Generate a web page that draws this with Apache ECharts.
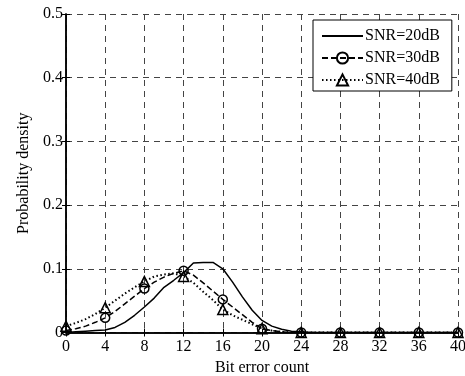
<!DOCTYPE html>
<html>
<head>
<meta charset="utf-8">
<script src="https://cdn.jsdelivr.net/npm/echarts@6/dist/echarts.min.js"></script>
<style>
    html, body { margin: 0; padding: 0; background: #fff; }
    #chart { width: 465px; height: 376px; }
</style>
</head>
<body>
<div id="chart"></div>
<script>
    // bit error count (x)
    var bitErrors = [0, 1, 2, 3, 4, 5, 6, 7, 8, 9, 10, 11, 12, 13, 14, 15, 16, 17, 18, 19, 20,
        21, 22, 23, 24, 25, 26, 27, 28, 29, 30, 31, 32, 33, 34, 35, 36, 37, 38, 39, 40];
    // probability density for each SNR
    var snr20 = [0, 0.001, 0.002, 0.003, 0.004, 0.008, 0.016, 0.027, 0.04, 0.054, 0.071, 0.082, 0.094,
        0.109, 0.11, 0.11, 0.1, 0.079, 0.056, 0.035, 0.019, 0.01, 0.005, 0.002, 0.001,
        0, 0, 0, 0, 0, 0, 0, 0, 0, 0, 0, 0, 0, 0, 0, 0];
    var snr30 = [0.003, 0.006, 0.01, 0.016, 0.023, 0.033, 0.045, 0.057, 0.069, 0.079, 0.087, 0.093, 0.097,
        0.09, 0.078, 0.065, 0.052, 0.04, 0.028, 0.016, 0.006, 0.003, 0.001, 0, 0,
        0, 0, 0, 0, 0, 0, 0, 0, 0, 0, 0, 0, 0, 0, 0, 0];
    var snr40 = [0.01, 0.015, 0.021, 0.029, 0.039, 0.05, 0.061, 0.071, 0.08, 0.088, 0.091, 0.093, 0.088,
        0.078, 0.064, 0.051, 0.036, 0.027, 0.02, 0.013, 0.006, 0.003, 0.001, 0, 0,
        0, 0, 0, 0, 0, 0, 0, 0, 0, 0, 0, 0, 0, 0, 0, 0];
    var xTicks = [0, 4, 8, 12, 16, 20, 24, 28, 32, 36, 40];

    var font = '"Liberation Serif", "Times New Roman", serif';

    // markers only on every 4th point
    function buildData(ys, marker) {
        return ys.map(function (v, i) {
            return {
                value: [bitErrors[i], v],
                symbol: xTicks.indexOf(bitErrors[i]) >= 0 ? marker : 'none'
            };
        });
    }

    var myChart = echarts.init(document.getElementById('chart'));

    var gridLine = { show: true, lineStyle: { color: '#444', type: [6, 5], width: 1 } };

    var option = {
        animation: false,
        grid: { left: 66, right: 7, top: 14, bottom: 43.5, outerBoundsMode: 'none', containLabel: false },
        legend: {
            orient: 'vertical',
            left: 313,
            top: 20,
            padding: [8, 12, 3, 8],
            itemWidth: 41,
            itemHeight: 14,
            itemGap: 6,
            backgroundColor: '#fff',
            borderColor: '#000',
            borderWidth: 1,
            borderRadius: 0,
            textStyle: { fontFamily: font, fontSize: 16, color: '#000', padding: [0, 0, 0, -3] },
            data: [
                // solid line only, hide the inherited symbol
                { name: 'SNR=20dB', itemStyle: { color: 'rgba(0,0,0,0)', borderColor: 'rgba(0,0,0,0)', borderWidth: 0 } },
                'SNR=30dB',
                'SNR=40dB'
            ]
        },
        xAxis: [{
            type: 'value',
            min: 0,
            max: 40,
            interval: 4,
            name: 'Bit error count',
            nameLocation: 'middle',
            nameGap: 26,
            nameTextStyle: { fontFamily: font, fontSize: 16, color: '#000' },
            axisLine: { lineStyle: { color: '#000', width: 1.5 } },
            axisTick: { inside: true, length: 4, lineStyle: { color: '#000' } },
            axisLabel: { fontFamily: font, fontSize: 16, color: '#000', margin: 6 },
            splitLine: gridLine
        }, {
            type: 'value',
            position: 'top',
            min: 0,
            max: 40,
            interval: 4,
            axisLine: { show: true, lineStyle: { color: '#000', width: 1.5 } },
            axisTick: { show: true, inside: true, length: 4, lineStyle: { color: '#000' } },
            axisLabel: { show: false },
            splitLine: { show: false }
        }],
        yAxis: [{
            type: 'value',
            min: 0,
            max: 0.5,
            interval: 0.1,
            name: 'Probability density',
            nameLocation: 'middle',
            nameGap: 33,
            nameTextStyle: { fontFamily: font, fontSize: 16, color: '#000' },
            axisLine: { show: true, lineStyle: { color: '#000', width: 1.5 } },
            axisTick: { show: true, inside: true, length: 4, lineStyle: { color: '#000' } },
            axisLabel: {
                fontFamily: font, fontSize: 16, color: '#000', margin: 3,
                formatter: function (v) { return v === 0 ? '0' : v.toFixed(1); }
            },
            splitLine: gridLine
        }, {
            type: 'value',
            position: 'right',
            min: 0,
            max: 0.5,
            interval: 0.1,
            axisLine: { show: true, lineStyle: { color: '#000', width: 1.5 } },
            axisTick: { show: true, inside: true, length: 4, lineStyle: { color: '#000' } },
            axisLabel: { show: false },
            splitLine: { show: false }
        }],
        series: [{
            name: 'SNR=20dB',
            type: 'line',
            data: buildData(snr20, 'none'),
            symbol: 'none',
            lineStyle: { color: '#000', width: 1.5, type: 'solid' },
            itemStyle: { color: '#000' }
        }, {
            name: 'SNR=30dB',
            type: 'line',
            data: buildData(snr30, 'circle'),
            symbol: 'circle',
            symbolSize: 9,
            showAllSymbol: true,
            lineStyle: { color: '#000', width: 1.5, type: [6, 3] },
            itemStyle: { color: 'rgba(0,0,0,0)', borderColor: '#000', borderWidth: 1.5 }
        }, {
            name: 'SNR=40dB',
            type: 'line',
            data: buildData(snr40, 'triangle'),
            symbol: 'triangle',
            symbolSize: 10,
            showAllSymbol: true,
            lineStyle: { color: '#000', width: 2, type: [1.5, 2.5] },
            itemStyle: { color: 'rgba(0,0,0,0)', borderColor: '#000', borderWidth: 1.5 }
        }]
    };
    myChart.setOption(option);
</script>
</body>
</html>
